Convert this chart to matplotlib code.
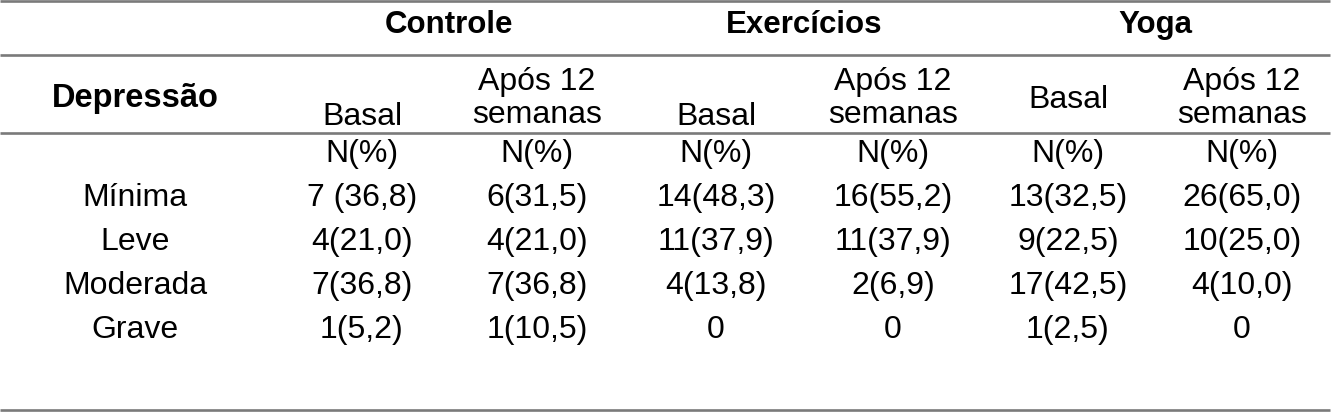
import matplotlib
matplotlib.use("Agg")
import matplotlib.pyplot as plt

# table content
groups = ["Controle", "Exercícios", "Yoga"]
sub_headers = ["Basal", "Após 12\nsemanas", "Basal", "Após 12\nsemanas", "Basal", "Após 12\nsemanas"]
row_title = "Depressão"
unit_label = "N(%)"
row_labels = ["Mínima", "Leve", "Moderada", "Grave"]

controle_basal = ["7 (36,8)", "4(21,0)", "7(36,8)", "1(5,2)"]
controle_12sem = ["6(31,5)", "4(21,0)", "7(36,8)", "1(10,5)"]
exercicios_basal = ["14(48,3)", "11(37,9)", "4(13,8)", "0"]
exercicios_12sem = ["16(55,2)", "11(37,9)", "2(6,9)", "0"]
yoga_basal = ["13(32,5)", "9(22,5)", "17(42,5)", "1(2,5)"]
yoga_12sem = ["26(65,0)", "10(25,0)", "4(10,0)", "0"]

columns = [controle_basal, controle_12sem, exercicios_basal,
           exercicios_12sem, yoga_basal, yoga_12sem]

# layout (pixel units, y grows downward)
W, H = 1338, 414
label_x = 135
col_x = [362, 537, 716, 893, 1068, 1242]
rule_y = [2, 56, 134, 411]
line_color = "#7a7a7a"
fs = 23

plt.rcParams["font.family"] = ["Liberation Sans", "DejaVu Sans"]

fig = plt.figure(figsize=(W / 100, H / 100), dpi=100)
ax = fig.add_axes([0, 0, 1, 1])
ax.set_xlim(0, W)
ax.set_ylim(H, 0)
ax.axis("off")

for y in rule_y:
    ax.plot([0, 1330], [y, y], color=line_color, lw=1.9, solid_capstyle="butt")

# group headers, centred over their two columns
for i, g in enumerate(groups):
    gx = (col_x[2 * i] + col_x[2 * i + 1]) / 2
    ax.text(gx, 33, g, ha="center", va="baseline", fontsize=fs - 0.5, fontweight="bold")

ax.text(label_x, 107, row_title, ha="center", va="baseline",
        fontsize=fs + 0.5, fontweight="bold")

for i, s in enumerate(sub_headers):
    x = col_x[i]
    if "\n" in s:
        top, bottom = s.split("\n")
        ax.text(x, 90, top, ha="center", va="baseline", fontsize=fs)
        ax.text(x, 123, bottom, ha="center", va="baseline", fontsize=fs)
    elif i == 4:
        # the Yoga "Basal" cell is vertically centred
        ax.text(x, 108, s, ha="center", va="baseline", fontsize=fs)
    else:
        ax.text(x, 125, s, ha="center", va="baseline", fontsize=fs)

for x in col_x:
    ax.text(x, 162, unit_label, ha="center", va="baseline", fontsize=fs)

row_base = [206, 250, 294, 338]
for r, lab in enumerate(row_labels):
    ax.text(label_x, row_base[r], lab, ha="center", va="baseline", fontsize=fs)
    for c, col in enumerate(columns):
        ax.text(col_x[c], row_base[r], col[r], ha="center", va="baseline", fontsize=fs)

fig.savefig("out.png", dpi=100, facecolor="white")
